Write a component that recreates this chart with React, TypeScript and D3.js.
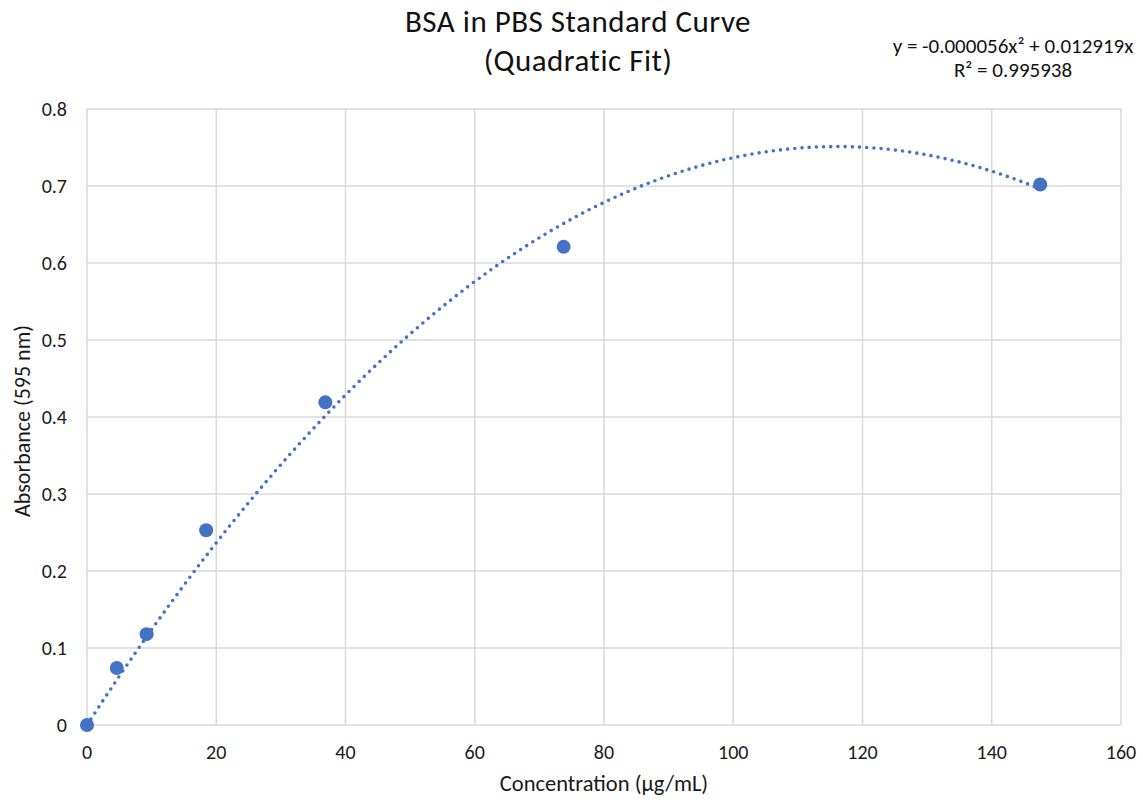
import React from 'react';
import * as d3 from 'd3';

// standard points (serial dilution) and measured absorbance
const concentrations = [0, 4.61, 9.22, 18.44, 36.88, 73.75, 147.5];
const absorbances = [0, 0.074, 0.118, 0.253, 0.419, 0.621, 0.702];
const xTicks = [0, 20, 40, 60, 80, 100, 120, 140, 160];
const yTicks = [0, 0.1, 0.2, 0.3, 0.4, 0.5, 0.6, 0.7, 0.8];
const equationLabels = ['y = -0.000056x² + 0.012919x', 'R² = 0.995938'];

// least squares y = a x^2 + b x (intercept forced to 0), like the spreadsheet trendline
const quadFit = (xs: number[], ys: number[]) => {
  const s4 = d3.sum(xs, x => x ** 4);
  const s3 = d3.sum(xs, x => x ** 3);
  const s2 = d3.sum(xs, x => x ** 2);
  const sx2y = d3.sum(xs, (x, i) => x * x * ys[i]);
  const sxy = d3.sum(xs, (x, i) => x * ys[i]);
  const det = s4 * s2 - s3 * s3;
  return [(sx2y * s2 - s3 * sxy) / det, (s4 * sxy - s3 * sx2y) / det];
};

const App = () => {
  const width = 1143;
  const height = 803;
  const margin = { top: 109, right: 22, bottom: 78, left: 87 };
  const font = "Carlito, Calibri, 'Open Sans', sans-serif";
  const blue = '#4472C4';

  const xScale = d3.scaleLinear().domain([0, 160]).range([margin.left, width - margin.right]);
  const yScale = d3.scaleLinear().domain([0, 0.8]).range([height - margin.bottom, margin.top]);

  const [a, b] = quadFit(concentrations, absorbances);
  const xMax = d3.max(concentrations) as number;
  const fitPoints = d3.range(0, 301).map(i => {
    const x = (xMax * i) / 300;
    return [x, a * x * x + b * x] as [number, number];
  });
  const line = d3.line<[number, number]>()
    .x(d => xScale(d[0]))
    .y(d => yScale(d[1]));

  const plotCenterX = (xScale(0) + xScale(160)) / 2;

  return (
    <svg width={width} height={height} style={{ position: 'absolute', left: 0, top: 0, background: '#fff' }}>
      <rect width={width} height={height} fill="#fff" />
      {yTicks.map(t =>
        <line key={`gy-${t}`} x1={xScale(0)} x2={xScale(160)} y1={yScale(t)} y2={yScale(t)} stroke="#d9d9d9" strokeWidth={1.5} />
      )}
      {xTicks.map(t =>
        <line key={`gx-${t}`} x1={xScale(t)} x2={xScale(t)} y1={yScale(0)} y2={yScale(0.8)} stroke="#d9d9d9" strokeWidth={1.5} />
      )}
      {yTicks.map(t =>
        <text key={`ty-${t}`} x={xScale(0) - 20} y={yScale(t)} dy="0.35em" textAnchor="end" fontFamily={font} fontSize={20} fill="#1a1a1a">{t}</text>
      )}
      {xTicks.map(t =>
        <text key={`tx-${t}`} x={xScale(t)} y={yScale(0) + 27} dy="0.35em" textAnchor="middle" fontFamily={font} fontSize={20} fill="#1a1a1a">{t}</text>
      )}
      <path d={line(fitPoints) || ''} fill="none" stroke={blue} strokeWidth={3.6} strokeLinecap="round" strokeDasharray="0 7.2" />
      {concentrations.map((c, i) =>
        <circle key={`pt-${i}`} cx={xScale(c)} cy={yScale(absorbances[i])} r={7} fill={blue} />
      )}
      <text x={578} y={21} dy="0.35em" textAnchor="middle" fontFamily={font} fontSize={31} letterSpacing={0.5} fill="#111">BSA in PBS Standard Curve</text>
      <text x={578} y={60} dy="0.35em" textAnchor="middle" fontFamily={font} fontSize={31} letterSpacing={0.5} fill="#111">(Quadratic Fit)</text>
      {equationLabels.map((s, i) =>
        <text key={`eq-${i}`} x={1013} y={46 + i * 24} dy="0.35em" textAnchor="middle" fontFamily={font} fontSize={21} fill="#111">{s}</text>
      )}
      <text x={plotCenterX} y={783} dy="0.35em" textAnchor="middle" fontFamily={font} fontSize={22.5} fill="#1a1a1a">Concentration (µg/mL)</text>
      <text transform={`translate(22, ${(yScale(0) + yScale(0.8)) / 2 + 4}) rotate(-90)`} dy="0.35em" textAnchor="middle" fontFamily={font} fontSize={22} fill="#1a1a1a">Absorbance (595 nm)</text>
    </svg>
  );
};

export default App;
